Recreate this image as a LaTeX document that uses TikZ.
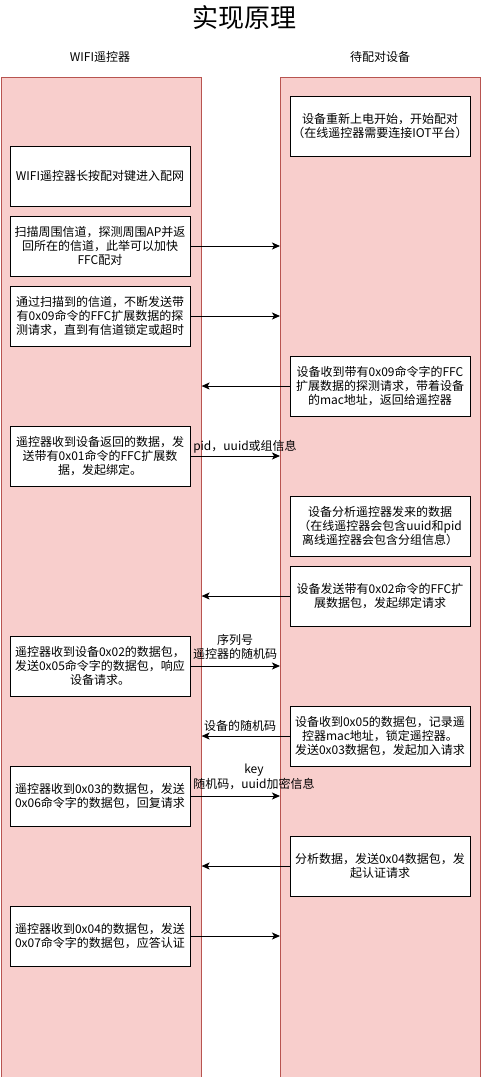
\documentclass[tikz,border=0pt]{standalone}
\usepackage{fontspec}
\setmainfont{Noto Sans CJK SC}
\usetikzlibrary{arrows.meta}
\definecolor{laneFill}{HTML}{F8CECC}
\definecolor{laneDraw}{HTML}{B85450}
\begin{document}
\begin{tikzpicture}[x=1pt,y=-1pt,
  lane/.style={draw=laneDraw, fill=laneFill, line width=1pt, minimum width=200pt, minimum height=1000pt, anchor=north west, inner sep=0pt},
  stepbox/.style={draw=black, fill=white, line width=1pt, text width=180pt, minimum height=60pt, inner sep=0pt, align=center, font=\fontsize{12}{14.4}\selectfont},
  msg/.style={-{Stealth[length=8pt,width=7pt,inset=2pt]}, line width=1pt},
  lbl/.style={font=\fontsize{12}{14.4}\selectfont, align=center, inner sep=0pt},
  head/.style={font=\fontsize{12}{14.4}\selectfont, inner sep=0pt}
]
\useasboundingbox (0,0) rectangle (481,1077);
\node[inner sep=0pt, font=\fontsize{26}{30}\selectfont] (title) at (244,18) {实现原理};
\node[head] (hl) at (100,57) {WIFI遥控器};
\node[head] (hr) at (380,57) {待配对设备};
\node[lane] (L) at (0.6,76.5) {};
\node[lane] (R) at (280,76.5) {};

\node[stepbox] (r1) at (380,126) {设备重新上电开始，开始配对\\（在线遥控器需要连接IOT平台）};
\node[stepbox] (b1) at (100,176) {WIFI遥控器长按配对键进入配网};
\node[stepbox] (b2) at (100,246) {扫描周围信道，探测周围AP并返\\回所在的信道，此举可以加快\\FFC配对};
\node[stepbox] (b3) at (100,316) {通过扫描到的信道，不断发送带\\有0x09命令的FFC扩展数据的探\\测请求，直到有信道锁定或超时};
\node[stepbox] (r2) at (380,386) {设备收到带有0x09命令字的FFC\\扩展数据的探测请求，带着设备\\的mac地址，返回给遥控器};
\node[stepbox] (b4) at (100,456) {遥控器收到设备返回的数据，发\\送带有0x01命令的FFC扩展数\\据，发起绑定。};
\node[stepbox] (r3) at (380,526) {设备分析遥控器发来的数据\\（在线遥控器会包含uuid和pid\\离线遥控器会包含分组信息）};
\node[stepbox] (r4) at (380,596) {设备发送带有0x02命令的FFC扩\\展数据包，发起绑定请求};
\node[stepbox] (b5) at (100,666) {遥控器收到设备0x02的数据包，\\发送0x05命令字的数据包，响应\\设备请求。};
\node[stepbox] (r5) at (380,736) {设备收到0x05的数据包，记录遥\\控器mac地址，锁定遥控器。\\发送0x03数据包，发起加入请求};
\node[stepbox] (b6) at (100,796) {遥控器收到0x03的数据包，发送\\0x06命令字的数据包，回复请求};
\node[stepbox] (r6) at (380,866) {分析数据，发送0x04数据包，发\\起认证请求};
\node[stepbox] (b7) at (100,936) {遥控器收到0x04的数据包，发送\\0x07命令字的数据包，应答认证};

\draw[msg] (b2.east) -- (b2.east -| R.west);
\draw[msg] (b3.east) -- (b3.east -| R.west);
\draw[msg] (r2.west) -- (r2.west -| L.east);
\draw[msg] (b4.east) -- (b4.east -| R.west);
\draw[msg] (r4.west) -- (r4.west -| L.east);
\draw[msg] (b5.east) -- (b5.east -| R.west);
\draw[msg] (r5.west) -- (r5.west -| L.east);
\draw[msg] (b6.east) -- (b6.east -| R.west);
\draw[msg] (r6.west) -- (r6.west -| L.east);
\draw[msg] (b7.east) -- (b7.east -| R.west);

\node[lbl] (l4) at (245,447) {pid，uuid或组信息};
\node[lbl] (l5) at (235,647) {序列号\\遥控器的随机码};
\node[lbl] (l6) at (240,726) {设备的随机码};
\node[lbl] (l7) at (254,777) {key\\随机码，uuid加密信息};
\end{tikzpicture}
\end{document}
